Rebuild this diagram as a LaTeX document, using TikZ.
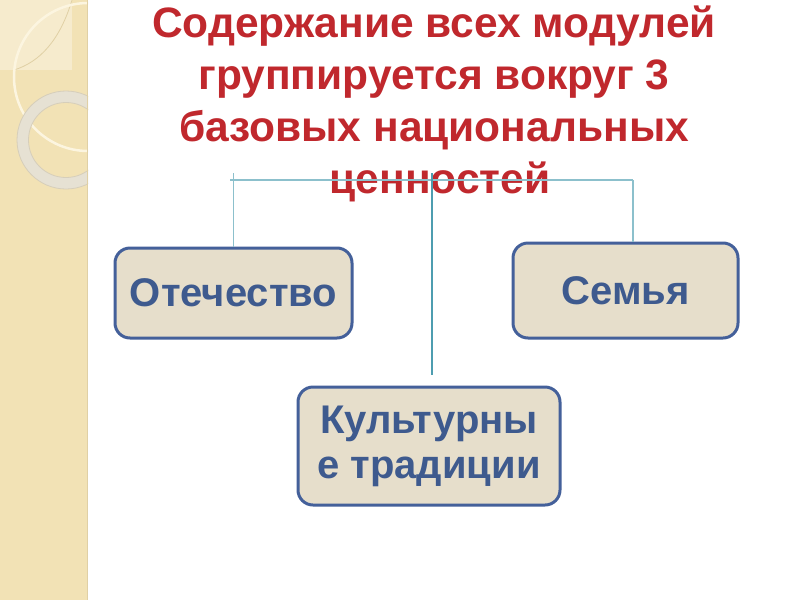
\documentclass[tikz,border=0pt]{standalone}
\usepackage{fontspec}
\setmainfont{Liberation Sans}
\begin{document}
\begin{tikzpicture}[x=1pt,y=-1pt,
  valbox/.style={draw=boxline, fill=boxfill, line width=3pt, rounded corners=15pt,
    text=boxtext, font=\bfseries\fontsize{40}{45}\selectfont, align=center, inner sep=0pt},
  thinlink/.style={draw=linklight, line width=1.5pt},
  mainlink/.style={draw=linkdark, line width=2.3pt}]
\definecolor{strip}{RGB}{242,226,181}
\definecolor{stripedge}{RGB}{224,208,165}
\definecolor{stripsq}{RGB}{246,235,205}
\definecolor{ringc}{RGB}{230,225,211}
\definecolor{ringedge}{RGB}{214,206,186}
\definecolor{circlec}{RGB}{252,245,224}
\definecolor{titlered}{RGB}{192,40,45}
\definecolor{boxline}{RGB}{68,96,154}
\definecolor{boxfill}{RGB}{230,222,203}
\definecolor{boxtext}{RGB}{62,90,142}
\definecolor{linklight}{RGB}{140,192,204}
\definecolor{linkdark}{RGB}{78,157,176}

\useasboundingbox (0,0) rectangle (800,600);
\fill[white] (0,0) rectangle (800,600);

% decorative strip
\fill[strip] (0,0) rectangle (88,600);
\begin{scope}
  \clip (0,0) rectangle (88,600);
  \fill[stripsq] (0,0) rectangle (72,70);
  \draw[stripedge, line width=0.8pt] (72,0) .. controls (60,40) and (40,62) .. (14,70);
  \draw[circlec, line width=2.5pt] (88,77) circle[radius=74];
  \fill[ringc, even odd rule] (66,140) circle[radius=49] (66,140) circle[radius=37.5];
  \draw[ringedge, line width=0.8pt] (66,140) circle[radius=49];
  \draw[ringedge, line width=0.8pt] (66,140) circle[radius=37.5];
\end{scope}
\draw[stripedge, line width=1.5pt] (87.5,0) -- (87.5,600);

% title
\node[anchor=north, inner sep=0pt, text=titlered, align=center,
      font=\bfseries\fontsize{42.5}{52}\selectfont] (title) at (434,6)
  {Содержание всех модулей\\группируется вокруг 3\\базовых национальных\\\hspace*{12pt}ценностей};

% boxes
\node[valbox, minimum width=237, minimum height=90] (otech) at (233.5,293) {Отечество};
\node[valbox, minimum width=225, minimum height=95] (semya) at (625.5,290.5) {Семья};
\node[valbox, minimum width=262, minimum height=118] (kult) at (429,446) {Культурны\\е традиции};

% connectors
\coordinate (lt) at (233.5,173);
\coordinate (hl) at (230,180);
\coordinate (hr) at (633,180);
\coordinate (ct) at (432,173);
\coordinate (cb) at (432,375);
\draw[thinlink] (hl) -- (hr);
\draw[thinlink] (otech.north) -- (lt);
\draw[thinlink] (hr) -- (hr |- semya.north);
\draw[mainlink] (ct) -- (cb);
\end{tikzpicture}
\end{document}
